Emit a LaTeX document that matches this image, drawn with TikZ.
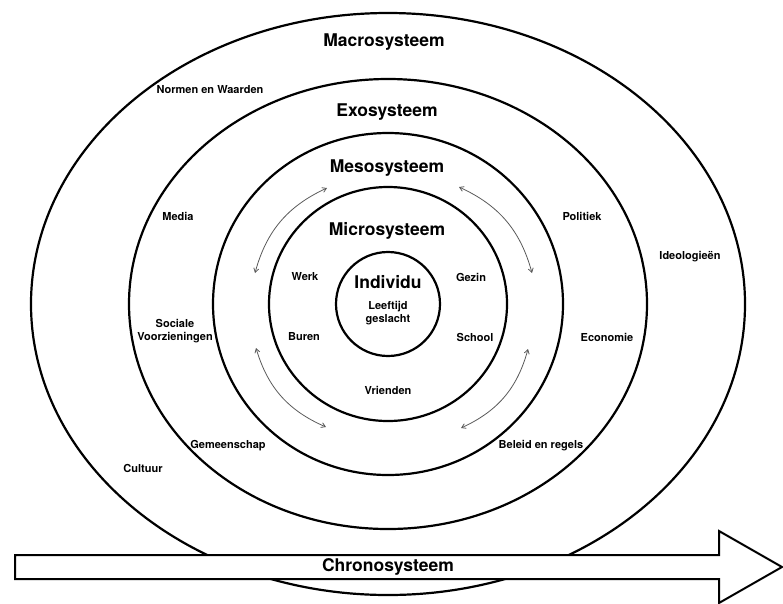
\documentclass[tikz,border=0pt]{standalone}
\usepackage{fontspec}
\setmainfont{TeX Gyre Heros}
\usetikzlibrary{arrows.meta}
\begin{document}
\begin{tikzpicture}[x=1pt,y=-1pt,
    ring/.style={line width=2.2pt},
    system/.style={font=\bfseries\fontsize{17.5}{20}\selectfont},
    factor/.style={font=\bfseries\fontsize{11}{13}\selectfont, align=center},
    link/.style={{Straight Barb[length=4pt,width=5pt]}-{Straight Barb[length=4pt,width=5pt]},
      black!65, line width=0.8pt, bend left=25}]
  \useasboundingbox (0,0) rectangle (783,603);

  % rings round the individual
  \coordinate (c) at (388,304);
  \draw[ring] (c) ellipse [x radius=357, y radius=291];
  \draw[ring] (c) ellipse [x radius=259, y radius=225];
  \draw[ring] (c) ellipse [x radius=175, y radius=171];
  \draw[ring] (c) ellipse [x radius=119, y radius=117];
  \draw[ring] (c) ellipse [x radius=52, y radius=52];

  % system names
  \node[system] (macro) at (384,42) {Macrosysteem};
  \node[system] (exo) at (387,112) {Exosysteem};
  \node[system] (meso) at (387,168) {Mesosysteem};
  \node[system] (micro) at (387,231) {Microsysteem};
  \node[system] (indiv) at (388,282) {Individu};

  % factors
  \node[factor] (normen) at (210,90) {Normen en Waarden};
  \node[factor] (ideo) at (690,257) {Ideologieën};
  \node[factor] (cultuur) at (143,468) {Cultuur};
  \node[factor] (media) at (178,216) {Media};
  \node[factor] (politiek) at (582,216) {Politiek};
  \node[factor] (sociaal) at (175,331) {Sociale\\Voorzieningen};
  \node[factor] (economie) at (607,337) {Economie};
  \node[factor] (gemeen) at (228,446) {Gemeenschap};
  \node[factor] (beleid) at (541,446) {Beleid en regels};
  \node[factor] (werk) at (305,277) {Werk};
  \node[factor] (gezin) at (471,277) {Gezin};
  \node[factor] (buren) at (304,337) {Buren};
  \node[factor] (school) at (475,337) {School};
  \node[factor] (vrienden) at (388,390) {Vrienden};
  \node[factor] (leeftijd) at (388,313) {Leeftijd\\geslacht};

  % interaction arrows in the mesosystem
  \coordinate (ul1) at (255,273);
  \coordinate (ul2) at (327,188);
  \coordinate (ur1) at (459,187);
  \coordinate (ur2) at (532,273);
  \coordinate (lr1) at (528,349);
  \coordinate (lr2) at (461,428);
  \coordinate (ll1) at (326,427);
  \coordinate (ll2) at (256,348);
  \draw[link] (ul1) to (ul2);
  \draw[link] (ur1) to (ur2);
  \draw[link] (lr1) to (lr2);
  \draw[link] (ll1) to (ll2);

  % time arrow
  \draw[ring, line width=2pt, fill=white] (15,555) -- (719,555) -- (719,531)
    -- (782,567) -- (719,603) -- (719,579) -- (15,579) -- cycle;
  \node[system] (chrono) at (388,567) {Chronosysteem};
\end{tikzpicture}
\end{document}
